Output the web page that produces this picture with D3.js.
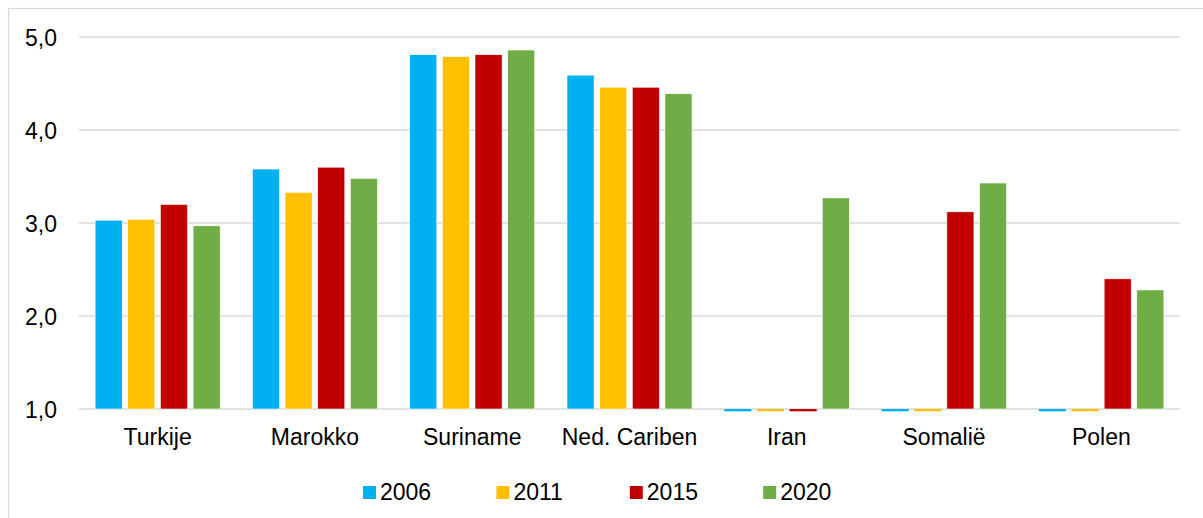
<!DOCTYPE html>
<html>
<head>
  <meta charset="utf-8">
  <script src="https://d3js.org/d3.v7.min.js"></script>
  <style>
    body { margin: 0; background: #fff; }
    svg { display: block; font-family: "Liberation Sans", Arial, sans-serif; }
    .grid line { stroke: #d9d9d9; stroke-width: 1.5; }
    .tick text { fill: #000; font-size: 23px; }
  </style>
</head>
<body>
  <svg width="1203" height="518"></svg>
  <script>
    // data
    var categories = ["Turkije", "Marokko", "Suriname", "Ned. Cariben", "Iran", "Somalië", "Polen"];
    var years = ["2006", "2011", "2015", "2020"];
    var v2006 = [3.03, 3.58, 4.81, 4.59, 0.975, 0.975, 0.975];
    var v2011 = [3.04, 3.33, 4.79, 4.46, 0.975, 0.975, 0.975];
    var v2015 = [3.20, 3.60, 4.81, 4.46, 0.975, 3.12, 2.40];
    var v2020 = [2.97, 3.48, 4.86, 4.39, 3.27, 3.43, 2.28];
    var yTicks = [1, 2, 3, 4, 5];
    var colors = ["#00b0f0", "#ffc000", "#c00000", "#70ad47"];

    var series = [v2006, v2011, v2015, v2020];
    var data = categories.map(function(c, i) {
      return { name: c, values: years.map(function(y, j) { return { year: y, value: series[j][i] }; }) };
    });

    var svg = d3.select("svg");
    var plotLeft = 79, plotRight = 1180, plotTop = 37, plotBottom = 409;

    // light frame round the chart
    svg.append("rect")
      .attr("x", 8.5).attr("y", 8.5)
      .attr("width", 1400).attr("height", 700)
      .attr("fill", "none")
      .attr("stroke", "#d9d9d9")
      .attr("stroke-width", 1.2);

    var x0 = d3.scaleBand().domain(categories).range([plotLeft, plotRight])
      .paddingInner(0.205).paddingOuter(0.1025);
    var x1 = d3.scaleBand().domain(years).range([0, x0.bandwidth()])
      .paddingInner(0.17).paddingOuter(0);
    var y = d3.scaleLinear().domain([1, 5]).range([plotBottom, plotTop]);
    var color = d3.scaleOrdinal().domain(years).range(colors);

    // gridlines
    svg.append("g").attr("class", "grid")
      .selectAll("line").data(yTicks).enter().append("line")
      .attr("x1", plotLeft).attr("x2", plotRight)
      .attr("y1", function(d) { return y(d); })
      .attr("y2", function(d) { return y(d); });

    // y axis labels
    var yAxis = svg.append("g")
      .attr("transform", "translate(" + (plotLeft - 22) + ",0)")
      .call(d3.axisLeft(y).tickValues(yTicks).tickSize(0).tickPadding(0)
        .tickFormat(function(d) { return d3.format(".1f")(d).replace(".", ","); }));
    yAxis.select(".domain").remove();
    yAxis.selectAll(".tick text").attr("dy", "0.36em");

    // bars
    var groups = svg.selectAll(".group").data(data).enter().append("g")
      .attr("class", "group")
      .attr("transform", function(d) { return "translate(" + x0(d.name) + ",0)"; });

    groups.selectAll("rect").data(function(d) { return d.values; }).enter().append("rect")
      .attr("x", function(d) { return x1(d.year); })
      .attr("y", function(d) { return Math.min(y(d.value), y(1)); })
      .attr("width", x1.bandwidth())
      .attr("height", function(d) { return Math.abs(y(1) - y(d.value)); })
      .attr("fill", function(d) { return color(d.year); })
      .attr("stroke", function(d) { return d.value < 1 ? "none" : "#fff"; })
      .attr("stroke-width", 0.6);

    // x axis labels
    var xAxis = svg.append("g")
      .attr("transform", "translate(0," + plotBottom + ")")
      .call(d3.axisBottom(x0).tickSize(0).tickPadding(0));
    xAxis.select(".domain").remove();
    xAxis.selectAll(".tick text").attr("y", 36).attr("dy", 0);

    // legend
    var legend = svg.append("g").attr("transform", "translate(363,486)");
    var item = legend.selectAll("g").data(years).enter().append("g")
      .attr("transform", function(d, i) { return "translate(" + (i * 133.4) + ",0)"; });
    item.append("rect")
      .attr("width", 13).attr("height", 13)
      .attr("fill", function(d) { return color(d); });
    item.append("text")
      .attr("x", 17).attr("y", 14)
      .attr("font-size", 23)
      .text(function(d) { return d; });
  </script>
</body>
</html>
